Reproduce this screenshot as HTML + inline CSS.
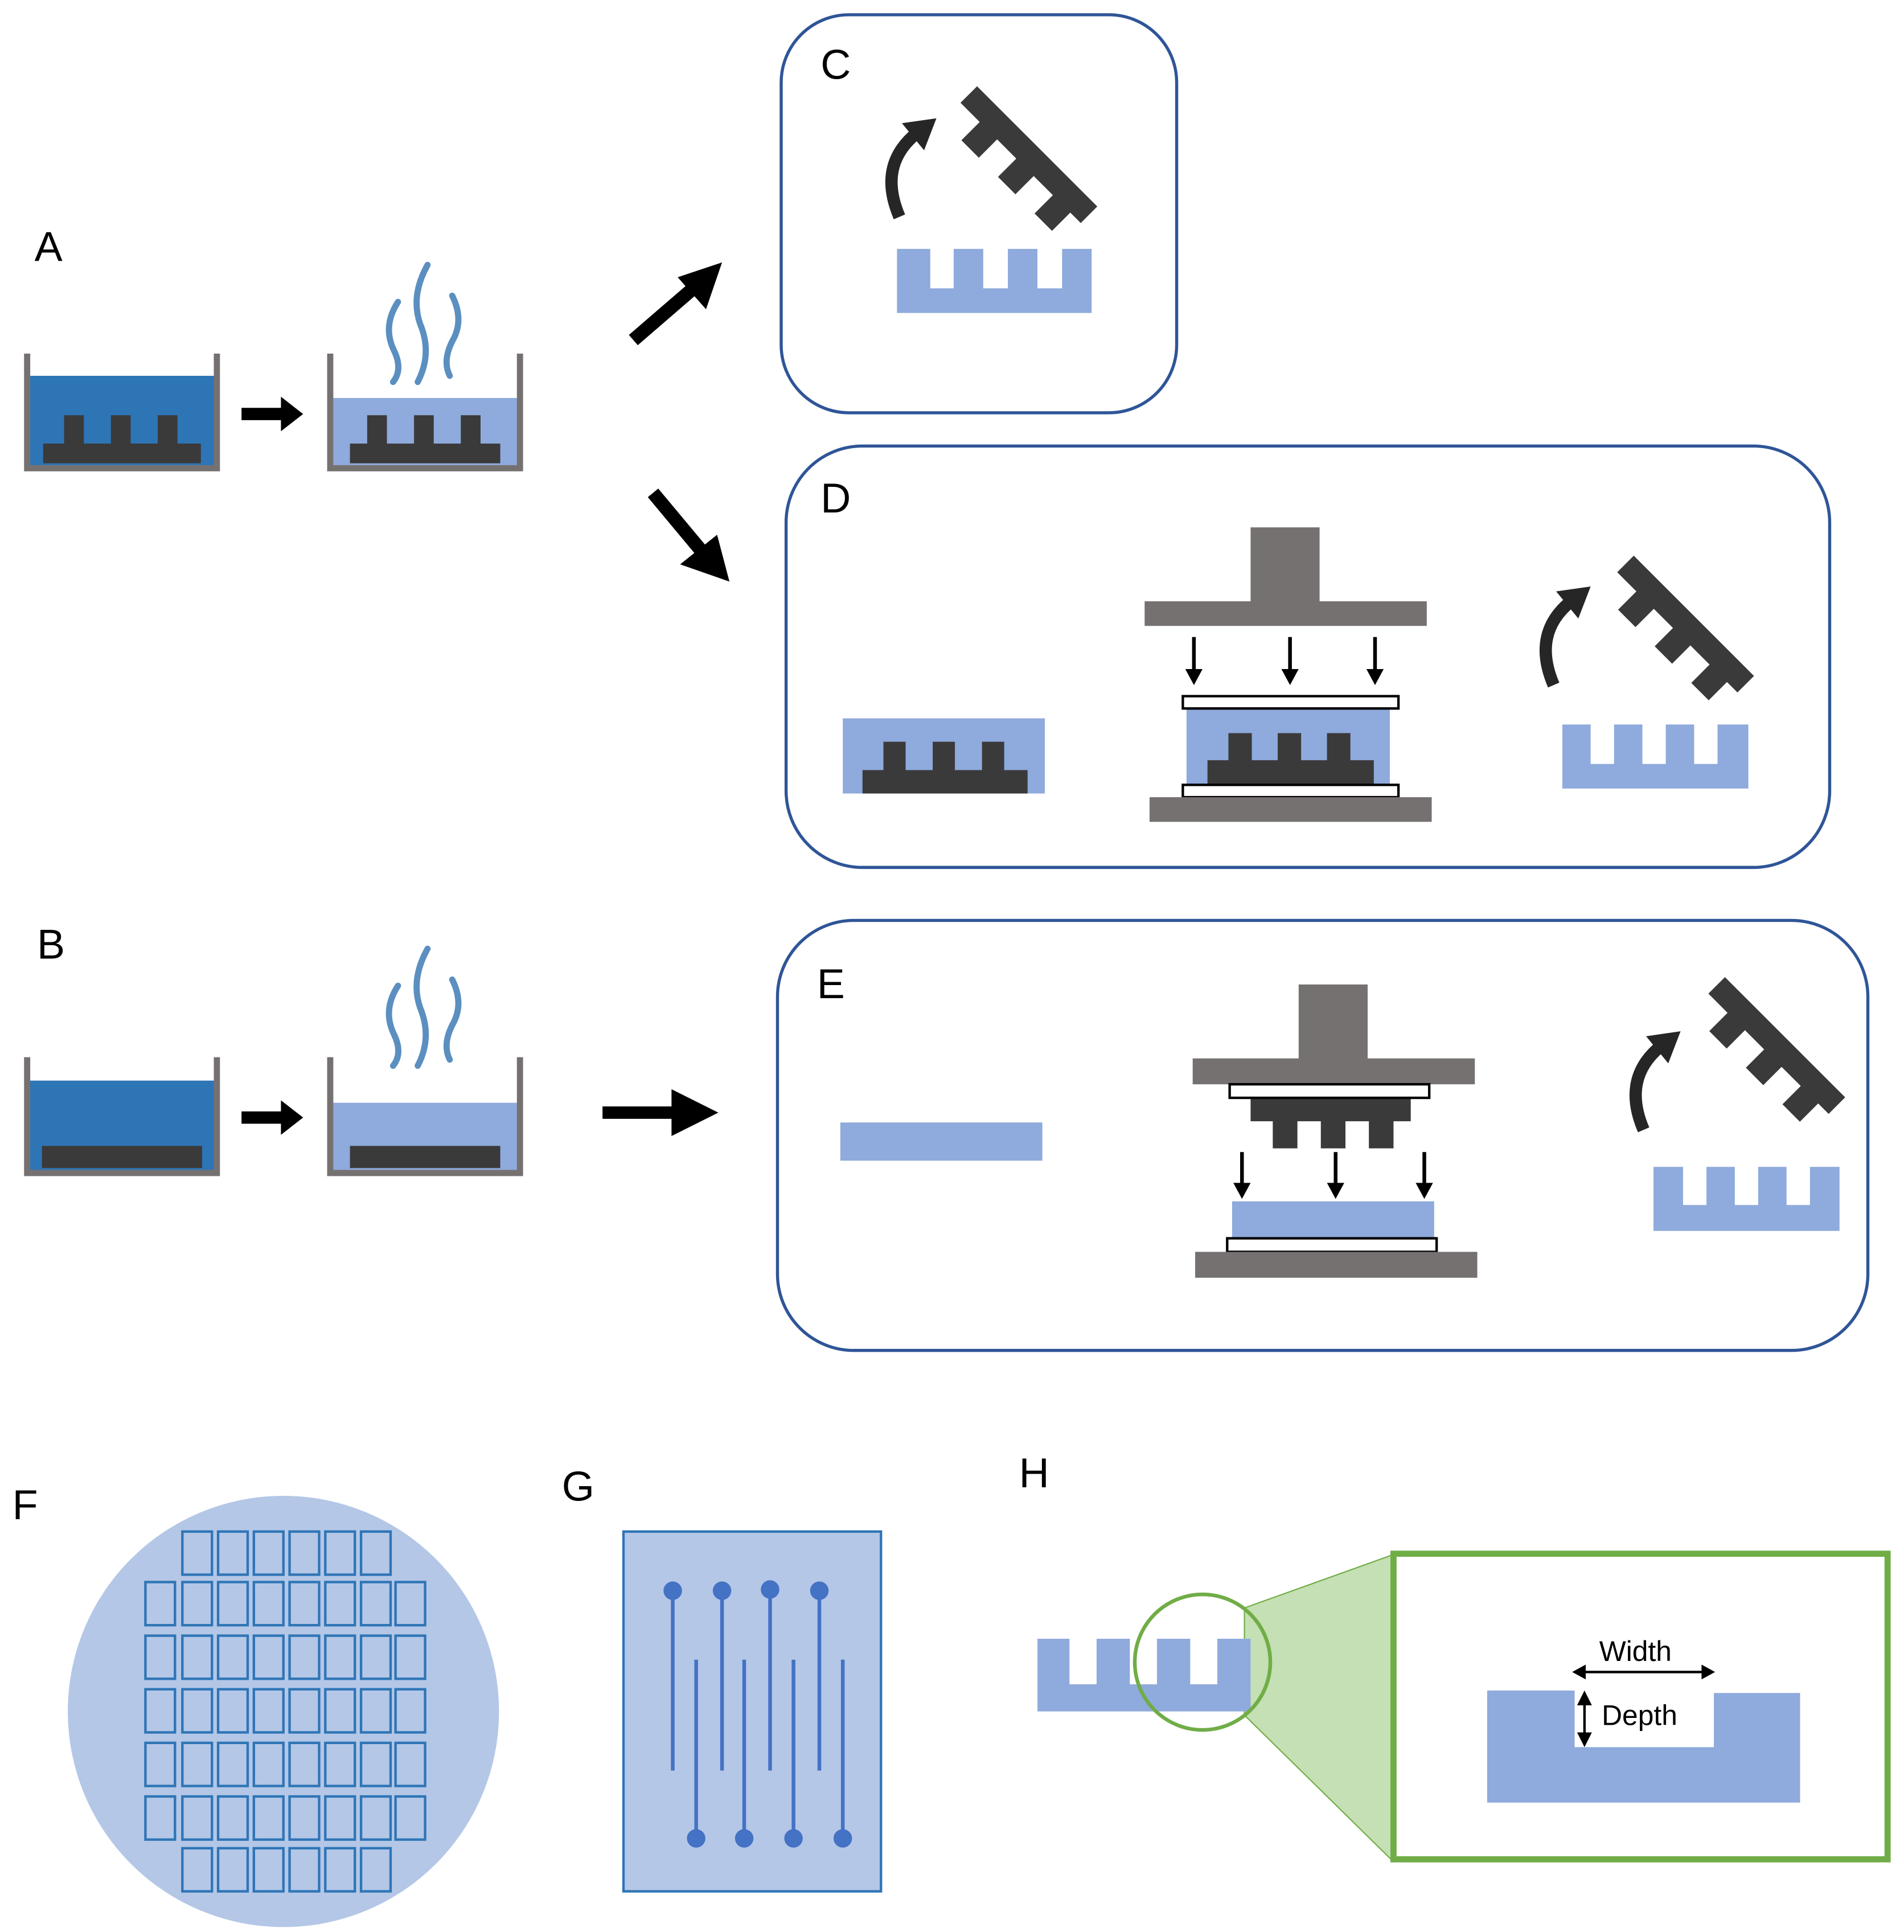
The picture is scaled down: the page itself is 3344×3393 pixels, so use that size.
<!DOCTYPE html>
<html><head><meta charset="utf-8"><style>
html,body{margin:0;padding:0;background:#fff}
svg{display:block}
text{font-family:"Liberation Sans",sans-serif}
</style></head><body>
<svg width="3344" height="3393" viewBox="0 0 1545.3 1568" xmlns="http://www.w3.org/2000/svg">
<defs>
<g id="comb">
<path d="M0 0 H138 V19 H126 V40 H106 V19 H84 V40 H64 V19 H42 V40 H22 V19 H0 Z" fill="#3a3a3a"/>
</g>
<g id="carrow">
<path d="M-6 72 Q-24 30 8 4" fill="none" stroke="#262626" stroke-width="10"/>
<polygon points="-4,-4 24,-8 14,18" fill="#262626"/>
</g>
<g id="steam" fill="none" stroke="#5b8fc0" stroke-width="5" stroke-linecap="round">
<path d="M18 30 Q5 50 15 70 Q22 85 14 95"/>
<path d="M42 0 Q28 25 36 48 Q46 72 34 95"/>
<path d="M62 25 Q72 45 62 62 Q54 78 60 90"/>
</g>
</defs>
<g font-size="34" fill="#000">
<text x="28" y="212">A</text>
<text x="30" y="778">B</text>
<text x="666" y="64">C</text>
<text x="666" y="416">D</text>
<text x="663" y="810">E</text>
<text x="10" y="1233">F</text>
<text x="456" y="1218">G</text>
<text x="827" y="1207">H</text>
</g>
<!-- A tanks -->
<rect x="24" y="305" width="150" height="74" fill="#2e75b6"/>
<rect x="35" y="360" width="128" height="16" fill="#3a3a3a"/>
<rect x="52" y="337" width="16" height="24" fill="#3a3a3a"/>
<rect x="90" y="337" width="16" height="24" fill="#3a3a3a"/>
<rect x="128" y="337" width="16" height="24" fill="#3a3a3a"/>
<path d="M22 287 V380 H176 V287" fill="none" stroke="#767171" stroke-width="5"/>
<polygon points="196,331 228,331 228,322 246,336 228,350 228,341 196,341" fill="#000"/>
<rect x="270" y="323" width="150" height="56" fill="#8faadc"/>
<rect x="284" y="360" width="122" height="16" fill="#3a3a3a"/>
<rect x="298" y="337" width="16" height="24" fill="#3a3a3a"/>
<rect x="336" y="337" width="16" height="24" fill="#3a3a3a"/>
<rect x="374" y="337" width="16" height="24" fill="#3a3a3a"/>
<path d="M268 287 V380 H422 V287" fill="none" stroke="#767171" stroke-width="5"/>
<use href="#steam" x="305" y="215"/>
<line x1="514" y1="276" x2="565" y2="232" stroke="#000" stroke-width="11"/>
<polygon points="586,213 573,251 550,225" fill="#000"/>
<line x1="530" y1="400" x2="570" y2="448" stroke="#000" stroke-width="11"/>
<polygon points="592,472 552,458 582,434" fill="#000"/>
<!-- B tanks -->
<rect x="24" y="877" width="150" height="74" fill="#2e75b6"/>
<rect x="34" y="930" width="130" height="18" fill="#3a3a3a"/>
<path d="M22 858 V952 H176 V858" fill="none" stroke="#767171" stroke-width="5"/>
<polygon points="196,902 228,902 228,893 246,907 228,921 228,912 196,912" fill="#000"/>
<rect x="270" y="895" width="150" height="56" fill="#8faadc"/>
<rect x="284" y="930" width="122" height="18" fill="#3a3a3a"/>
<path d="M268 858 V952 H422 V858" fill="none" stroke="#767171" stroke-width="5"/>
<use href="#steam" x="305" y="770"/>
<polygon points="489,898 545,898 545,884 583,903 545,922 545,908 489,908" fill="#000"/>
<!-- C panel -->
<rect x="634" y="12" width="321" height="323" rx="55" fill="none" stroke="#2f5597" stroke-width="2.5"/>
<use href="#comb" transform="translate(793,70) rotate(45)"/>
<use href="#carrow" x="736" y="104"/>
<path d="M728 202 H755 V234 H774 V202 H798 V234 H818 V202 H842 V234 H862 V202 H886 V254 H728 Z" fill="#8faadc"/>
<!-- D panel -->
<rect x="638" y="362" width="847" height="342" rx="62" fill="none" stroke="#2f5597" stroke-width="2.5"/>
<rect x="684" y="583" width="164" height="61" fill="#8faadc"/>
<rect x="700" y="625" width="134" height="19" fill="#3a3a3a"/>
<rect x="717" y="602" width="18" height="24" fill="#3a3a3a"/>
<rect x="757" y="602" width="18" height="24" fill="#3a3a3a"/>
<rect x="797" y="602" width="18" height="24" fill="#3a3a3a"/>
<rect x="1015" y="428" width="56" height="61" fill="#767171"/>
<rect x="929" y="488" width="229" height="20" fill="#767171"/>
<g stroke="#000" stroke-width="3"><line x1="969" y1="517" x2="969" y2="545"/><line x1="1047" y1="517" x2="1047" y2="545"/><line x1="1116" y1="517" x2="1116" y2="545"/></g>
<g fill="#000"><polygon points="962,543 976,543 969,556"/><polygon points="1040,543 1054,543 1047,556"/><polygon points="1109,543 1123,543 1116,556"/></g>
<rect x="963" y="575" width="165" height="62" fill="#8faadc"/>
<rect x="980" y="617" width="135" height="20" fill="#3a3a3a"/>
<rect x="997" y="595" width="19" height="23" fill="#3a3a3a"/>
<rect x="1037" y="595" width="19" height="23" fill="#3a3a3a"/>
<rect x="1077" y="595" width="19" height="23" fill="#3a3a3a"/>
<rect x="960" y="565" width="175" height="10" fill="#fff" stroke="#000" stroke-width="2"/>
<rect x="960" y="637" width="175" height="10" fill="#fff" stroke="#000" stroke-width="2"/>
<rect x="933" y="647" width="229" height="20" fill="#767171"/>
<use href="#comb" transform="translate(1326,451) rotate(45)"/>
<use href="#carrow" x="1267" y="484"/>
<path d="M1268 588 H1291 V620 H1310 V588 H1333 V620 H1352 V588 H1375 V620 H1394 V588 H1419 V640 H1268 Z" fill="#8faadc"/>
<!-- E panel -->
<rect x="631" y="747" width="885" height="349" rx="62" fill="none" stroke="#2f5597" stroke-width="2.5"/>
<rect x="682" y="911" width="164" height="31" fill="#8faadc"/>
<rect x="1054" y="799" width="56" height="61" fill="#767171"/>
<rect x="968" y="859" width="229" height="21" fill="#767171"/>
<rect x="1015" y="891" width="130" height="19" fill="#3a3a3a"/>
<rect x="1033" y="909" width="20" height="23" fill="#3a3a3a"/>
<rect x="1072" y="909" width="20" height="23" fill="#3a3a3a"/>
<rect x="1111" y="909" width="20" height="23" fill="#3a3a3a"/>
<rect x="998" y="880" width="162" height="11" fill="#fff" stroke="#000" stroke-width="2"/>
<g stroke="#000" stroke-width="3"><line x1="1008" y1="935" x2="1008" y2="962"/><line x1="1084" y1="935" x2="1084" y2="962"/><line x1="1156" y1="935" x2="1156" y2="962"/></g>
<g fill="#000"><polygon points="1001,960 1015,960 1008,973"/><polygon points="1077,960 1091,960 1084,973"/><polygon points="1149,960 1163,960 1156,973"/></g>
<rect x="1000" y="975" width="164" height="30" fill="#8faadc"/>
<rect x="996" y="1005" width="170" height="11" fill="#fff" stroke="#000" stroke-width="2"/>
<rect x="970" y="1016" width="229" height="21" fill="#767171"/>
<use href="#comb" transform="translate(1400,793) rotate(45)"/>
<use href="#carrow" x="1340" y="845"/>
<path d="M1342 947 H1366 V978 H1385 V947 H1408 V978 H1427 V947 H1450 V978 H1469 V947 H1493 V999 H1342 Z" fill="#8faadc"/>
<!-- F -->
<circle cx="230" cy="1389" r="175" fill="#b4c7e7"/>
<g fill="none" stroke="#2e75b6" stroke-width="2">
<g id="r6"><rect x="148" y="1243" width="24" height="35"/><rect x="177" y="1243" width="24" height="35"/><rect x="206" y="1243" width="24" height="35"/><rect x="235" y="1243" width="24" height="35"/><rect x="264" y="1243" width="24" height="35"/><rect x="293" y="1243" width="24" height="35"/></g>
<use href="#r6" y="257"/>
<g id="r8"><rect x="118" y="1284" width="24" height="35"/><rect x="148" y="1284" width="24" height="35"/><rect x="177" y="1284" width="24" height="35"/><rect x="206" y="1284" width="24" height="35"/><rect x="235" y="1284" width="24" height="35"/><rect x="264" y="1284" width="24" height="35"/><rect x="293" y="1284" width="24" height="35"/><rect x="321" y="1284" width="24" height="35"/></g>
<use href="#r8" y="43.5"/><use href="#r8" y="87"/><use href="#r8" y="130.5"/><use href="#r8" y="174"/>
</g>
<!-- G -->
<rect x="506" y="1243" width="209" height="292" fill="#b4c7e7" stroke="#2e75b6" stroke-width="2"/>
<g stroke="#4472c4" stroke-width="3" fill="#4472c4">
<line x1="546" y1="1291" x2="546" y2="1437"/><circle cx="546" cy="1291" r="6"/>
<line x1="586" y1="1291" x2="586" y2="1437"/><circle cx="586" cy="1291" r="6"/>
<line x1="625" y1="1290" x2="625" y2="1437"/><circle cx="625" cy="1290" r="6"/>
<line x1="665" y1="1291" x2="665" y2="1437"/><circle cx="665" cy="1291" r="6"/>
<line x1="565" y1="1347" x2="565" y2="1492"/><circle cx="565" cy="1492" r="6"/>
<line x1="604" y1="1347" x2="604" y2="1492"/><circle cx="604" cy="1492" r="6"/>
<line x1="644" y1="1347" x2="644" y2="1492"/><circle cx="644" cy="1492" r="6"/>
<line x1="684" y1="1347" x2="684" y2="1492"/><circle cx="684" cy="1492" r="6"/>
</g>
<!-- H -->
<polygon points="1010,1305 1130,1262 1130,1510 1010,1392" fill="#c5e0b4" stroke="#70ad47" stroke-width="1"/>
<path d="M842 1330 H868 V1367 H890 V1330 H917 V1367 H939 V1330 H966 V1367 H988 V1330 H1015 V1389 H842 Z" fill="#8faadc"/>
<ellipse cx="976" cy="1349" rx="55" ry="55" fill="none" stroke="#70ad47" stroke-width="3"/>
<rect x="1131" y="1261" width="401" height="248" fill="#fff" stroke="#70ad47" stroke-width="5"/>
<path d="M1207 1372 H1278 V1418 H1391 V1374 H1461 V1463 H1207 Z" fill="#8faadc"/>
<line x1="1284" y1="1357" x2="1384" y2="1357" stroke="#000" stroke-width="2"/>
<polygon points="1276,1357 1287,1351 1287,1363" fill="#000"/>
<polygon points="1392,1357 1381,1351 1381,1363" fill="#000"/>
<line x1="1286" y1="1380" x2="1286" y2="1410" stroke="#000" stroke-width="2"/>
<polygon points="1286,1372 1280,1384 1292,1384" fill="#000"/>
<polygon points="1286,1418 1280,1406 1292,1406" fill="#000"/>
<text x="1298" y="1348" font-size="23">Width</text>
<text x="1300" y="1400" font-size="23">Depth</text>
</svg>
</body></html>
